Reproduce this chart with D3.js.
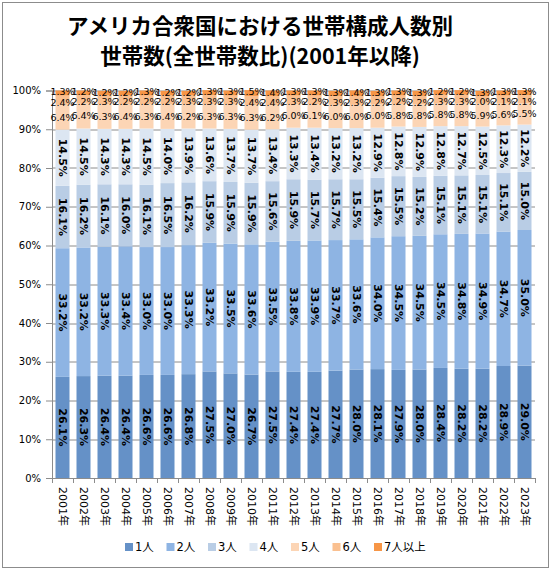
<!DOCTYPE html>
<html>
<head>
<meta charset="utf-8">
<script src="https://cdn.jsdelivr.net/npm/d3@7"></script>
<style>
  body { margin: 0; background: #fff; }
  svg { display: block; }
</style>
</head>
<body>
<div id="chart"></div>
<script>
// Data (percent of all households)
const years = ["2001年","2002年","2003年","2004年","2005年","2006年","2007年","2008年","2009年","2010年","2011年","2012年",
  "2013年","2014年","2015年","2016年","2017年","2018年","2019年","2020年","2021年","2022年","2023年"];
const sizes = ["1人","2人","3人","4人","5人","6人","7人以上"];
const p1 = [26.1,26.3,26.4,26.4,26.6,26.6,26.8,27.5,27.0,26.7,27.5,27.4,27.4,27.7,28.0,28.1,27.9,28.0,28.4,28.2,28.2,28.9,29.0];
const p2 = [33.2,33.2,33.3,33.4,33.0,33.0,33.3,33.2,33.5,33.6,33.5,33.8,33.9,33.7,33.6,34.0,34.5,34.5,34.5,34.8,34.9,34.7,35.0];
const p3 = [16.1,16.2,16.1,16.0,16.1,16.5,16.2,15.9,15.9,15.9,15.6,15.9,15.7,15.7,15.5,15.4,15.5,15.2,15.1,15.1,15.1,15.1,15.0];
const p4 = [14.5,14.5,14.3,14.3,14.5,14.0,13.9,13.6,13.7,13.7,13.4,13.3,13.4,13.2,13.2,12.9,12.8,12.9,12.8,12.7,12.5,12.3,12.2];
const p5 = [6.4,6.4,6.3,6.4,6.3,6.4,6.2,6.3,6.3,6.3,6.2,6.0,6.1,6.0,6.0,6.0,5.8,5.8,5.8,5.8,5.9,5.6,5.5];
const p6 = [2.4,2.2,2.3,2.2,2.2,2.2,2.3,2.3,2.3,2.4,2.4,2.3,2.2,2.3,2.3,2.2,2.2,2.2,2.3,2.3,2.0,2.1,2.1];
const p7 = [1.3,1.2,1.2,1.2,1.3,1.2,1.2,1.3,1.3,1.5,1.4,1.3,1.3,1.3,1.4,1.3,1.3,1.3,1.2,1.2,1.3,1.3,1.3];
const yTicks = [0,10,20,30,40,50,60,70,80,90,100];

const series = [p1,p2,p3,p4,p5,p6,p7];
const colors = ["#6591c7","#8eb4e3","#b9cde5","#dce6f2","#fcd5b5","#fac090","#f79646"];

// table for d3.stack
const table = years.map((yr, i) => {
  const row = {year: yr};
  sizes.forEach((s, k) => row[s] = series[k][i]);
  return row;
});

const W = 551, H = 570;
const margin = {top: 90.5, right: 16, bottom: 92, left: 52};
const width = W - margin.left - margin.right;
const height = H - margin.top - margin.bottom;

const svg = d3.select("#chart").append("svg")
  .attr("width", W)
  .attr("height", H);

// outer frame
svg.append("rect")
  .attr("x", 2.5).attr("y", 2.5)
  .attr("width", W - 5).attr("height", H - 5)
  .attr("fill", "#fff")
  .attr("stroke", "#8c8c8c");

// title
const title = svg.append("text")
  .attr("text-anchor", "middle")
  .attr("font-family", "'Noto Sans CJK JP', sans-serif")
  .attr("font-weight", "bold")
  .attr("font-size", 21.5)
  .attr("fill", "#000");
title.append("tspan").attr("x", 260).attr("y", 34).text("アメリカ合衆国における世帯構成人数別");
title.append("tspan").attr("x", 260).attr("y", 64).text("世帯数(全世帯数比)(2001年以降)");

const g = svg.append("g").attr("transform", `translate(${margin.left},${margin.top})`);

const x = d3.scaleBand()
  .domain(years)
  .range([0, width])
  .paddingInner(1 / 3)
  .paddingOuter(1 / 6);

const y = d3.scaleLinear()
  .domain([0, 100])
  .range([height, 0]);

// gridlines
g.append("g")
  .selectAll("line")
  .data(yTicks.filter(d => d > 0))
  .join("line")
    .attr("x1", 0).attr("x2", width)
    .attr("y1", d => Math.round(y(d)) + 0.5)
    .attr("y2", d => Math.round(y(d)) + 0.5)
    .attr("stroke", "#8c8c8c");

// stacked bars
const stacked = d3.stack().keys(sizes)(table);

const layer = g.append("g").selectAll("g")
  .data(stacked)
  .join("g")
    .attr("fill", (d, i) => colors[i]);

layer.selectAll("rect")
  .data(d => d)
  .join("rect")
    .attr("x", d => x(d.data.year))
    .attr("y", d => y(d[1]))
    .attr("width", x.bandwidth())
    .attr("height", d => y(d[0]) - y(d[1]));

// y axis
const gy = g.append("g")
  .call(d3.axisLeft(y).tickValues(yTicks).tickFormat(d => d + "%").tickSize(6).tickPadding(5));
gy.select(".domain").attr("stroke", "#8c8c8c");
gy.selectAll(".tick line").attr("stroke", "#8c8c8c");
gy.selectAll("text")
  .attr("font-family", "'DejaVu Sans', sans-serif")
  .attr("font-size", 10)
  .attr("fill", "#000");

// x axis: ticks between categories
const gx = g.append("g").attr("transform", `translate(0,${height})`);
gx.append("line")
  .attr("x1", 0).attr("x2", width)
  .attr("y1", 0.5).attr("y2", 0.5)
  .attr("stroke", "#8c8c8c");
const step = x.step();
gx.selectAll(".sep")
  .data(years.concat(["end"]))
  .join("line")
    .attr("class", "sep")
    .attr("x1", (d, i) => Math.round(i * step) + 0.5)
    .attr("x2", (d, i) => Math.round(i * step) + 0.5)
    .attr("y1", 0).attr("y2", 5)
    .attr("stroke", "#8c8c8c");
gx.selectAll(".lab")
  .data(years)
  .join("text")
    .attr("class", "lab")
    .attr("transform", d => `translate(${x(d) + x.bandwidth() / 2},9) rotate(90)`)
    .attr("dy", "0.36em")
    .attr("font-family", "'DejaVu Sans', 'Noto Sans CJK JP', sans-serif")
    .attr("font-size", 11)
    .attr("fill", "#000")
    .text(d => d);

// data labels: 1-4 persons rotated, bold
const labels = g.append("g");
stacked.forEach((s, k) => {
  if (k < 4) {
    labels.append("g").selectAll("text")
      .data(s)
      .join("text")
        .attr("transform", d => `translate(${x(d.data.year) + x.bandwidth() / 2},${y((d[0] + d[1]) / 2)}) rotate(90)`)
        .attr("text-anchor", "middle")
        .attr("dy", "0.36em")
        .attr("font-family", "'DejaVu Sans', sans-serif")
        .attr("font-weight", "bold")
        .attr("font-size", 11)
        .attr("fill", "#000")
        .text(d => (d[1] - d[0]).toFixed(1) + "%");
  }
});
// 5, 6, 7+ persons horizontal (7+ drawn first so the others overlap like the original)
[6, 5, 4].forEach(k => {
  const off = k === 5 ? 2 : (k === 6 ? -1 : 0);
  labels.append("g").selectAll("text")
    .data(stacked[k])
    .join("text")
      .attr("x", d => x(d.data.year) + x.bandwidth() / 2)
      .attr("y", d => y((d[0] + d[1]) / 2) + off)
      .attr("text-anchor", "middle")
      .attr("dy", "0.36em")
      .attr("font-family", "'DejaVu Sans', sans-serif")
      .attr("font-size", 9.5)
      .attr("fill", "#000")
      .text(d => (d[1] - d[0]).toFixed(1) + "%");
});

// legend
const legend = svg.append("g").attr("transform", "translate(125,547)");
const item = legend.selectAll("g")
  .data(sizes)
  .join("g")
    .attr("transform", (d, i) => `translate(${i * 41.5},0)`);
item.append("rect")
  .attr("x", 0).attr("y", -4)
  .attr("width", 8).attr("height", 8)
  .attr("fill", (d, i) => colors[i]);
item.append("text")
  .attr("x", 10)
  .attr("dy", "0.36em")
  .attr("font-family", "'DejaVu Sans', 'Noto Sans CJK JP', sans-serif")
  .attr("font-size", 11.5)
  .attr("fill", "#000")
  .text(d => d);
</script>
</body>
</html>
